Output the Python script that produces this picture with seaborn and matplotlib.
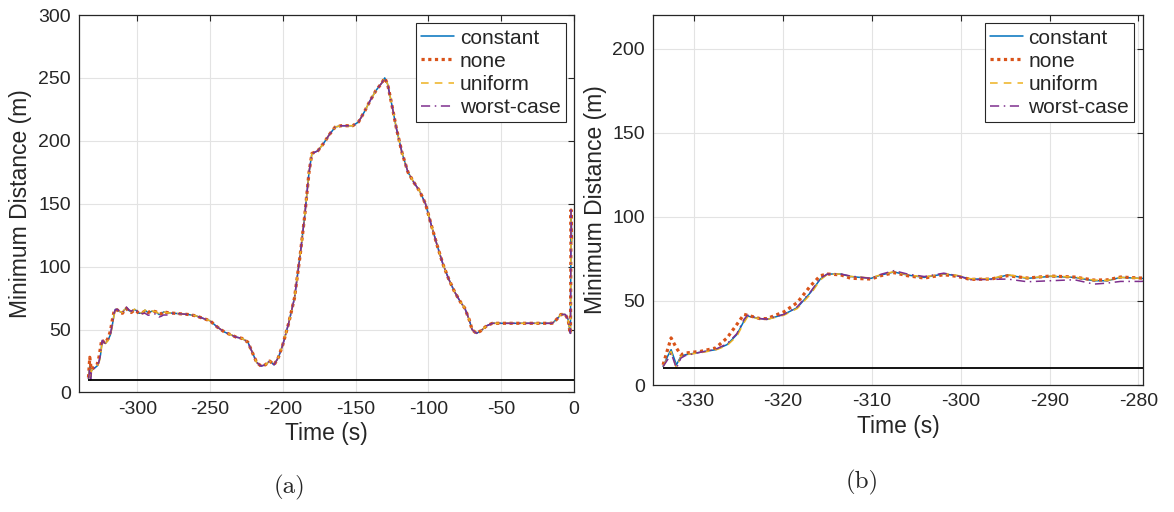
import pandas as pd
import seaborn as sns
import matplotlib.pyplot as plt

# Data
# first part of the run, where the four cases differ a little
time_start = [-333.5, -333.0, -332.6, -332.0, -331.5, -331.0, -329.3, -327.6,
              -326.3, -325.2, -324.4, -324.0, -322.6, -321.8, -319.9, -318.4,
              -316.9, -315.8, -315.0, -313.5, -312.4, -310.1, -309.0, -307.5,
              -306.0, -304.1, -301.9, -300.4, -298.9, -296.6, -294.7, -292.5,
              -289.9, -287.2, -285.0, -283.5, -282.0, -279.7]
constant_start = [11, 17, 21, 12, 17, 18, 19.5, 21, 24, 30, 38, 41, 39.5, 39,
                  42, 46, 55, 63, 66, 66, 64.5, 63.4, 65.4, 67.2, 65.4, 64,
                  66, 65, 63, 63, 65.4, 63.4, 64.6, 64, 62, 62, 64, 63.4]
none_start = [12, 21, 28, 22, 18, 19, 20, 22, 28, 36, 42, 41.5, 39.5, 39.5,
              43.5, 49, 59, 65, 66, 65.5, 63.5, 63, 65, 66.8, 65, 63.6, 65.6,
              64.6, 62.8, 63, 65, 63.6, 64.8, 64.2, 62.4, 62.5, 64.2, 63.6]
uniform_start = [11, 16, 20, 10, 17, 18, 19.2, 20.8, 23.5, 29, 37, 40.5, 39.5,
                 39, 41.5, 45.5, 54, 62.5, 65.8, 66, 64.6, 63.6, 65.6, 67.4,
                 65.6, 64.2, 66.2, 65.2, 63.2, 63.2, 65.6, 63.6, 64.8, 64.2,
                 62.4, 62.2, 64, 63.4]
worst_start = [11, 15, 19, 10, 16, 17.5, 19.5, 21.2, 24.5, 30.5, 39, 41.5,
               39.5, 39.2, 42, 46.5, 55.5, 63.5, 66, 66, 64.8, 63.4, 65.8, 68,
               66, 64.5, 66.5, 65, 62.6, 62.8, 63, 61.4, 62, 62.6, 60, 60.6,
               61.6, 61.6]

# rest of the run: the four cases lie on top of each other
time_rest = [-275, -270, -265, -260, -255, -250, -245, -240, -236, -232, -228,
             -224, -221, -218, -215, -212, -209, -206, -203, -200, -196, -192,
             -188, -185, -182, -180, -176, -172, -168, -164, -160, -152, -148,
             -144, -140, -136, -132, -130, -128, -125, -122, -118, -114, -110,
             -106, -102, -98, -94, -90, -86, -82, -78, -75, -72, -70, -67,
             -64, -60, -56, -50, -40, -30, -20, -15, -12, -9, -6, -4, -3,
             -2.4, -2.0, -1.6]
dist_rest = [63, 62.5, 62, 61, 59, 57, 52, 48, 46, 44, 43, 40, 32, 24, 21, 22,
             25, 22, 28, 38, 55, 75, 110, 140, 175, 190, 192, 198, 205, 211,
             212, 212, 215, 223, 232, 240, 246, 250, 245, 228, 210, 190, 175,
             167, 160, 150, 133, 117, 102, 90, 80, 72, 67, 58, 50, 47, 49, 53,
             55, 55, 55, 55, 55, 55, 58, 62, 62, 58, 50, 47, 145, 120]

safety_distance = 10
methods = ['constant', 'none', 'uniform', 'worst-case']
starts = [constant_start, none_start, uniform_start, worst_start]

colors = ['#0072BD', '#D95319', '#EDB120', '#7E2F8E']
styles = ['-', (0, (1, 1.1)), (0, (5, 4)), (0, (6, 3, 1, 3))]
widths = [1.1, 2.3, 1.1, 1.1]


def build_frame():
    '''
    Puts all four cases into one long dataframe.
    '''
    rows = []
    for method, start in zip(methods, starts):
        times = time_start + time_rest
        values = start + dist_rest
        for t, v in zip(times, values):
            rows.append({'Time': t, 'Distance': v, 'Method': method})
    return pd.DataFrame(rows)


def draw_panel(ax, df, xlim, ylim, xticks, yticks):
    '''
    Draws one panel of the figure with MATLAB-like styling.
    '''
    for method, color, ls, lw in zip(methods, colors, styles, widths):
        sub = df[df['Method'] == method]
        sns.lineplot(x='Time', y='Distance', data=sub, ax=ax, color=color,
                     linestyle=ls, linewidth=lw, label=method,
                     errorbar=None, sort=False)
    ax.hlines(safety_distance, time_start[0], 0, color='black', linewidth=1.3)

    ax.set_xlim(xlim)
    ax.set_ylim(ylim)
    ax.set_xticks(xticks)
    ax.set_yticks(yticks)
    ax.set_xlabel('Time (s)', fontsize=16.5, labelpad=3)
    ax.set_ylabel('Minimum Distance (m)', fontsize=16.5, labelpad=4)
    ax.tick_params(direction='in', top=True, right=True, length=4,
                   width=0.8, labelsize=14, color='#262626', pad=6)
    ax.grid(True, color='#e3e3e3', linewidth=0.8)
    for spine in ax.spines.values():
        spine.set_color('#262626')
        spine.set_linewidth(0.9)

    handles, labels = ax.get_legend_handles_labels()
    leg = ax.legend(handles[:4], labels[:4], loc='upper right', fontsize=15,
                    frameon=True, fancybox=False, framealpha=1,
                    edgecolor='#262626', handlelength=1.6,
                    handletextpad=0.25, borderpad=0.25, labelspacing=0.2,
                    borderaxespad=0.4)
    leg.get_frame().set_linewidth(0.8)


def main():
    sns.set_theme(style='whitegrid')
    plt.rcParams['font.family'] = ['Liberation Sans', 'DejaVu Sans']
    plt.rcParams['axes.unicode_minus'] = False

    df = build_frame()

    fig = plt.figure(figsize=(11.74, 5.12), dpi=100)
    ax_a = fig.add_axes([0.0673, 0.2334, 0.4216, 0.7373])
    ax_b = fig.add_axes([0.5565, 0.2480, 0.4169, 0.7227])

    draw_panel(ax_a, df, (-340, 0), (0, 300),
               [-300, -250, -200, -150, -100, -50, 0],
               [0, 50, 100, 150, 200, 250, 300])
    draw_panel(ax_b, df, (-334.6, -279.5), (0, 220),
               [-330, -320, -310, -300, -290, -280],
               [0, 50, 100, 150, 200])

    fig.text(290 / 1174, 1 - 487 / 512, '(a)', family='cmr10', fontsize=18,
             ha='center', va='center')
    fig.text(862 / 1174, 1 - 482 / 512, '(b)', family='cmr10', fontsize=18,
             ha='center', va='center')

    fig.savefig('out.png', dpi=100, facecolor='white')


if __name__ == '__main__':
    main()
